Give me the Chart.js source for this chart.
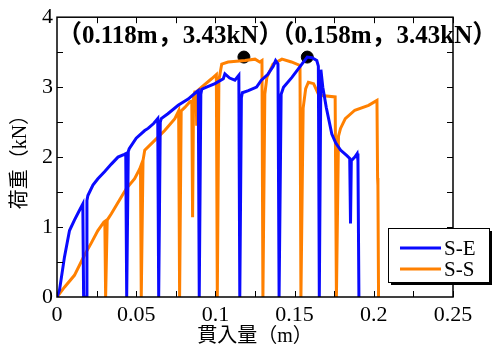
<!DOCTYPE html>
<html>
<head>
<meta charset="utf-8">
<script src="https://cdn.jsdelivr.net/npm/chart.js@4/dist/chart.umd.min.js"></script>
<style>
  body { margin: 0; background: #fff; }
</style>
</head>
<body>
<canvas id="canvas" width="493" height="350"></canvas>
<script>
// Data
const seriesNames = ["S-E", "S-S"];

// S-E
const seX = [0, 0.0016, 0.0047, 0.0079, 0.011, 0.0142, 0.0163, 0.0168, 0.0184, 0.0189, 0.0195, 0.0227, 0.0258, 0.030, 0.0343, 0.0385, 0.0425, 0.0434, 0.0440, 0.0450, 0.0456, 0.050, 0.0554, 0.0575, 0.0610, 0.0636, 0.0642, 0.0652, 0.0658, 0.070, 0.0765, 0.0828, 0.088, 0.0892, 0.0898, 0.0908, 0.0914, 0.0944, 0.0997, 0.105, 0.106, 0.109, 0.1123, 0.1148, 0.1154, 0.1164, 0.1170, 0.1208, 0.126, 0.129, 0.133, 0.1365, 0.138, 0.1395, 0.1402, 0.1415, 0.143, 0.1483, 0.1546, 0.158, 0.161, 0.164, 0.1650, 0.1656, 0.1666, 0.1678, 0.170, 0.1735, 0.176, 0.179, 0.183, 0.1848, 0.1853, 0.1858, 0.188, 0.1895, 0.1900, 0.1906];
const seY = [0, 0.1, 0.57, 0.95, 1.1, 1.24, 1.33, 0, 0, 1.38, 1.45, 1.6, 1.69, 1.79, 1.9, 2.0, 2.04, 2.05, 0, 2.08, 2.12, 2.27, 2.38, 2.41, 2.48, 2.55, 0, 2.5, 2.55, 2.62, 2.74, 2.83, 2.93, 2.95, 0, 2.9, 2.97, 3.0, 3.05, 3.12, 3.19, 3.13, 3.1, 3.17, 0, 2.85, 2.92, 2.95, 3.0, 3.1, 3.18, 3.3, 3.38, 3.33, 0, 2.9, 3.0, 3.14, 3.33, 3.43, 3.42, 3.38, 3.3, 0, 3.25, 3.0, 2.71, 2.33, 2.2, 2.1, 2.02, 1.98, 1.05, 1.95, 2.0, 2.05, 1.95, 0];

// S-S
const ssX = [0, 0.0047, 0.011, 0.0174, 0.0216, 0.0258, 0.0296, 0.0302, 0.0307, 0.0317, 0.0343, 0.0406, 0.0438, 0.049, 0.0522, 0.0527, 0.0532, 0.0543, 0.0554, 0.0617, 0.068, 0.0744, 0.0768, 0.0774, 0.0784, 0.0807, 0.0839, 0.0851, 0.0856, 0.0862, 0.087, 0.0878, 0.0882, 0.0888, 0.0913, 0.0976, 0.1006, 0.1012, 0.1022, 0.104, 0.108, 0.1187, 0.125, 0.128, 0.1294, 0.1300, 0.1312, 0.1325, 0.1364, 0.142, 0.148, 0.1534, 0.1540, 0.1554, 0.157, 0.1587, 0.162, 0.165, 0.167, 0.1756, 0.1764, 0.1777, 0.179, 0.182, 0.188, 0.1967, 0.202, 0.2024, 0.2026, 0.2030];
const ssY = [0, 0.14, 0.31, 0.6, 0.77, 0.95, 1.07, 1.08, 0, 1.1, 1.19, 1.43, 1.55, 1.69, 1.83, 1.86, 0, 1.95, 2.1, 2.24, 2.38, 2.55, 2.66, 0, 2.66, 2.71, 2.79, 2.8, 1.14, 2.85, 2.93, 2.93, 2.45, 2.95, 3.0, 3.12, 3.18, 0, 3.1, 3.33, 3.36, 3.38, 3.4, 3.36, 3.38, 0, 2.9, 3.14, 3.33, 3.4, 3.36, 3.31, 0, 2.7, 2.98, 3.07, 3.05, 2.9, 2.88, 2.86, 0, 2.3, 2.41, 2.55, 2.67, 2.74, 2.81, 1.7, 1.6, 0];

// peak points
const peakX = [0.118, 0.158];
const peakY = [3.43, 3.43];

// axis ticks
const xTicks = [0, 0.05, 0.1, 0.15, 0.2, 0.25];
const yTicks = [0, 1, 2, 3, 4];

const colors = ["#0a0aff", "#ff8000"];
const serif = "'Liberation Serif', 'Noto Sans CJK JP', serif";

function toPoints(xs, ys) {
    return xs.map((x, i) => ({ x: x, y: ys[i] }));
}

// frame + inward ticks
const framePlugin = {
    id: "frame",
    afterDatasetsDraw(chart) {
        const ctx = chart.ctx;
        const a = chart.chartArea;
        const xs = chart.scales.x;
        const ys = chart.scales.y;
        ctx.save();
        ctx.strokeStyle = "#000";
        ctx.lineWidth = 1.5;
        ctx.strokeRect(a.left, a.top, a.right - a.left, a.bottom - a.top);
        ctx.lineWidth = 1;
        ctx.beginPath();
        for (let v = 0.025; v < 0.25; v += 0.025) {
            const px = Math.round(xs.getPixelForValue(v)) + 0.5;
            ctx.moveTo(px, a.bottom); ctx.lineTo(px, a.bottom - 6);
            ctx.moveTo(px, a.top); ctx.lineTo(px, a.top + 6);
        }
        for (let v = 0.5; v < 4; v += 0.5) {
            const py = Math.round(ys.getPixelForValue(v)) + 0.5;
            ctx.moveTo(a.left, py); ctx.lineTo(a.left + 6, py);
            ctx.moveTo(a.right, py); ctx.lineTo(a.right - 6, py);
        }
        ctx.stroke();
        ctx.restore();
    }
};

// peak labels
const labelPlugin = {
    id: "peakLabels",
    afterDraw(chart) {
        const ctx = chart.ctx;
        ctx.save();
        ctx.font = "bold 25px " + serif;
        ctx.fillStyle = "#000";
        ctx.textBaseline = "alphabetic";
        let x = 57;
        peakX.forEach((px, i) => {
            const txt = "（" + px + "m，" + peakY[i].toFixed(2) + "kN）";
            ctx.fillText(txt, x, 43);
            x += ctx.measureText(txt).width - 14;
        });
        ctx.restore();
    }
};

// legend box at lower right
const legendPlugin = {
    id: "boxLegend",
    afterDraw(chart) {
        const ctx = chart.ctx;
        const left = 388, top = 228, w = 101, h = 54;
        ctx.save();
        ctx.fillStyle = "#000";
        ctx.fillRect(left + 3, top + 3, w, h);
        ctx.fillStyle = "#fff";
        ctx.fillRect(left, top, w, h);
        ctx.strokeStyle = "#000";
        ctx.lineWidth = 1;
        ctx.strokeRect(left + 0.5, top + 0.5, w, h);
        ctx.font = "21px " + serif;
        ctx.textBaseline = "middle";
        seriesNames.forEach((name, i) => {
            const y = top + 20 + i * 21;
            ctx.strokeStyle = colors[i];
            ctx.lineWidth = 3;
            ctx.beginPath();
            ctx.moveTo(400, y); ctx.lineTo(441, y);
            ctx.stroke();
            ctx.fillStyle = "#000";
            ctx.fillText(name, 444, y + 1);
        });
        ctx.restore();
    }
};

const chart = new Chart(document.getElementById("canvas").getContext("2d"), {
    type: "line",
    data: {
        datasets: [
            {
                label: seriesNames[0],
                data: toPoints(seX, seY),
                borderColor: colors[0],
                borderWidth: 3,
                pointRadius: 0,
                fill: false
            },
            {
                label: seriesNames[1],
                data: toPoints(ssX, ssY),
                borderColor: colors[1],
                borderWidth: 3,
                pointRadius: 0,
                fill: false
            },
            {
                label: "peak",
                data: toPoints(peakX, peakY),
                showLine: false,
                pointRadius: 6,
                pointBackgroundColor: "#000",
                pointBorderColor: "#000"
            }
        ]
    },
    options: {
        responsive: false,
        animation: false,
        devicePixelRatio: 1,
        layout: { padding: { top: 17, right: 40, left: 0, bottom: 0 } },
        plugins: {
            legend: { display: false },
            tooltip: { enabled: false }
        },
        scales: {
            x: {
                type: "linear",
                min: 0,
                max: 0.25,
                afterFit(scale) { scale.height = 53; },
                afterBuildTicks(scale) { scale.ticks = xTicks.map(v => ({ value: v })); },
                grid: { display: false, drawTicks: false },
                border: { display: false },
                ticks: {
                    color: "#000",
                    padding: 5,
                    font: { family: serif, size: 22 },
                    callback: v => String(parseFloat(v.toFixed(2)))
                },
                title: {
                    display: true,
                    text: "貫入量（m）",
                    color: "#000",
                    font: { family: serif, size: 20 },
                    padding: { top: 0, bottom: 1 }
                }
            },
            y: {
                type: "linear",
                min: 0,
                max: 4,
                afterFit(scale) { scale.width = 57; },
                afterBuildTicks(scale) { scale.ticks = yTicks.map(v => ({ value: v })); },
                grid: { display: false, drawTicks: false },
                border: { display: false },
                ticks: {
                    color: "#000",
                    padding: 4,
                    font: { family: serif, size: 22 }
                },
                title: {
                    display: true,
                    text: "荷重（kN）",
                    color: "#000",
                    font: { family: serif, size: 20 },
                    padding: { top: 9, bottom: 0 }
                }
            }
        }
    },
    plugins: [framePlugin, labelPlugin, legendPlugin]
});
</script>
</body>
</html>
